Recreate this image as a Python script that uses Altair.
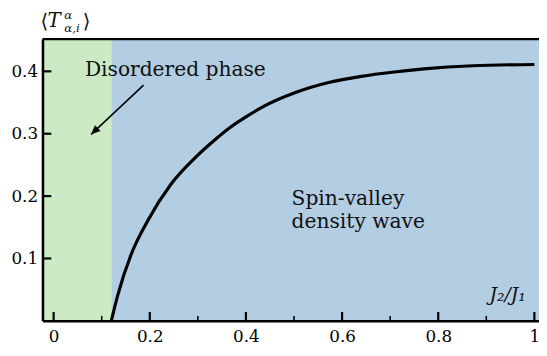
import altair as alt
import pandas as pd

# ---- data ----
curve_x = [0.12, 0.133, 0.162, 0.196, 0.244, 0.299, 0.335, 0.367, 0.400, 0.435, 0.503,
           0.572, 0.640, 0.708, 0.770, 0.872, 1.0]
curve_y = [0.0, 0.040, 0.108, 0.161, 0.219, 0.265, 0.290, 0.310, 0.327, 0.343, 0.366,
           0.382, 0.392, 0.399, 0.404, 0.409, 0.411]

region_start = [-0.0232, 0.12]
region_end = [0.12, 1.0096]
region_name = ["Disordered", "SVDW"]
region_color = ["#ccebc5", "#b3cde3"]

x_major = [0.0, 0.2, 0.4, 0.6, 0.8, 1.0]
x_minor = [0.1, 0.3, 0.5, 0.7, 0.9]
y_major = [0.1, 0.2, 0.3, 0.4]

notes_text = ["Disordered phase", ["Spin-valley", "density wave"]]
notes_x = [0.065, 0.495]
notes_y = [0.392, 0.185]

arrow_from = (0.187, 0.378)
arrow_to = (0.078, 0.299)

W, H = 504, 286
XDOM = [-0.0232, 1.0096]
YDOM = [0.0, 0.4517]
FONT = "DejaVu Serif"

xs = alt.Scale(domain=XDOM, nice=False, zero=False)
ys = alt.Scale(domain=YDOM, nice=False, zero=False)

bg = pd.DataFrame({"x": region_start, "x2": region_end, "name": region_name})
rects = alt.Chart(bg).mark_rect(clip=True).encode(
    x=alt.X("x:Q", scale=xs),
    x2="x2:Q",
    y=alt.value(0),
    y2=alt.value(H),
    color=alt.Color("name:N", scale=alt.Scale(domain=region_name, range=region_color), legend=None),
)

cdf = pd.DataFrame({"x": curve_x, "y": curve_y})
line = alt.Chart(cdf).mark_line(color="black", strokeWidth=3.2, interpolate="monotone").encode(
    x=alt.X("x:Q", scale=xs, axis=alt.Axis(values=x_major, format=".1~f", tickSize=0, domain=True,
                                           domainColor="black", domainWidth=2.6, zindex=1,
                                           grid=False, labelFont=FONT, labelFontSize=17,
                                           labelColor="black", labelPadding=8, title=None)),
    y=alt.Y("y:Q", scale=ys, axis=alt.Axis(values=y_major, format=".1f", tickSize=0, domain=True,
                                           domainColor="black", domainWidth=2.6, zindex=1,
                                           grid=False, labelFont=FONT, labelFontSize=17,
                                           labelColor="black", labelPadding=5, title=None)),
)

top_border = alt.Chart(pd.DataFrame({"a": [0]})).mark_rule(color="black", strokeWidth=2.4).encode(
    x=alt.value(0), x2=alt.value(W), y=alt.value(0))

xmaj = alt.Chart(pd.DataFrame({"v": x_major})).mark_rule(color="black", strokeWidth=2.2).encode(
    x=alt.X("v:Q", scale=xs), y=alt.value(H), y2=alt.value(H - 9))
xmin = alt.Chart(pd.DataFrame({"v": x_minor})).mark_rule(color="black", strokeWidth=1.6).encode(
    x=alt.X("v:Q", scale=xs), y=alt.value(H), y2=alt.value(H - 5))
ymaj = alt.Chart(pd.DataFrame({"v": y_major})).mark_rule(color="black", strokeWidth=2.2).encode(
    y=alt.Y("v:Q", scale=ys), x=alt.value(0), x2=alt.value(9))

ndf = pd.DataFrame({"t": notes_text, "x": notes_x, "y": notes_y})
notes = alt.Chart(ndf).mark_text(font=FONT, fontSize=20.5, align="left", baseline="alphabetic",
                                 color="#111", lineHeight=23).encode(
    x=alt.X("x:Q", scale=xs), y=alt.Y("y:Q", scale=ys), text="t")

adf = pd.DataFrame({"x": [arrow_from[0]], "y": [arrow_from[1]], "x2": [arrow_to[0]], "y2": [arrow_to[1]]})
arrow_line = alt.Chart(adf).mark_rule(color="black", strokeWidth=1.6).encode(
    x=alt.X("x:Q", scale=xs), y=alt.Y("y:Q", scale=ys), x2="x2:Q", y2="y2:Q")
head = alt.Chart(pd.DataFrame({"x": [arrow_to[0]], "y": [arrow_to[1]]})).mark_point(
    shape="M0,0 L-0.45,1 L0.45,1 Z", filled=True, color="black", opacity=1, size=340, angle=226.8
).encode(x=alt.X("x:Q", scale=xs), y=alt.Y("y:Q", scale=ys))

xlab = alt.Chart(pd.DataFrame({"x": [0.9066], "y": [0.0314]})).mark_text(
    font=FONT, fontSize=19, fontStyle="italic", align="left", baseline="alphabetic", color="#111"
).encode(x=alt.X("x:Q", scale=xs), y=alt.Y("y:Q", scale=ys), text=alt.value("J₂/J₁"))

def lbl(t, x, y, size, style="normal"):
    return alt.Chart(pd.DataFrame({"a": [0]})).mark_text(
        font=FONT, fontSize=size, fontStyle=style, align="left", baseline="alphabetic", color="#111"
    ).encode(x=alt.value(x), y=alt.value(y), text=alt.value(t))

ytitle = (lbl("⟨", -2, -11, 20) + lbl("T", 5, -12, 20, "italic") + lbl("α", 22, -20, 12, "italic")
          + lbl("α,i", 22, -7, 12, "italic") + lbl("⟩", 41, -11, 20))

chart = alt.layer(rects, line, top_border, xmaj, xmin, ymaj, notes, arrow_line, head, xlab, ytitle).properties(
    width=W, height=H, autosize=alt.AutoSizeParams(type="none"),
    padding={"left": 35, "top": 29, "right": 0, "bottom": 25},
).configure_view(strokeWidth=0).configure(background="white")

chart.save("out.html", embed_options={"renderer": "svg", "actions": False})
